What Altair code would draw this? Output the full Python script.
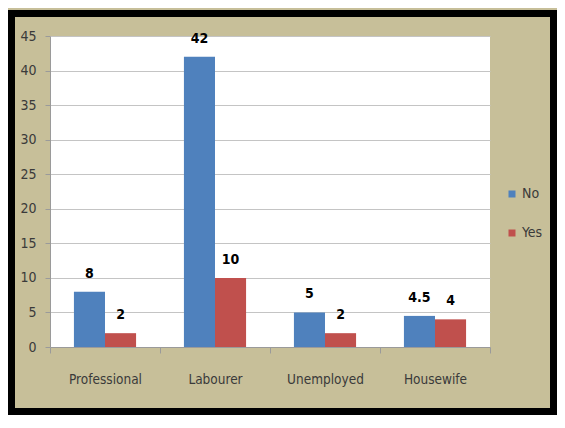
import altair as alt
import pandas as pd

categories = ["Professional", "Labourer", "Unemployed", "Housewife"]
series = ["No", "Yes"]
no_values = [8, 42, 5, 4.5]
yes_values = [2, 10, 2, 4]
y_ticks = [0, 5, 10, 15, 20, 25, 30, 35, 40, 45]

rows = []
for c, n, yv in zip(categories, no_values, yes_values):
    rows.append({"Category": c, "Series": "No", "Value": n})
    rows.append({"Category": c, "Series": "Yes", "Value": yv})
df = pd.DataFrame(rows)

FONT = "Liberation Sans Narrow, DejaVu Sans Condensed, Open Sans, sans-serif"
AXIS_GRAY = "#9A9A9A"
LABEL_COLOR = "#3A3A3A"

x_enc = alt.X(
    "Category:N",
    sort=categories,
    scale=alt.Scale(paddingInner=0, paddingOuter=0),
    axis=alt.Axis(
        title=None, labelAngle=0, tickBand="extent", tickSize=6, labelPadding=19,
        domainColor=AXIS_GRAY, tickColor=AXIS_GRAY, labelFont=FONT, labelFontSize=13.5,
        labelColor=LABEL_COLOR, grid=False,
    ),
)
xo_enc = alt.XOffset("Series:N", sort=series, scale=alt.Scale(paddingInner=0, paddingOuter=0.77))
y_enc = alt.Y(
    "Value:Q",
    scale=alt.Scale(domain=[0, 45], nice=False),
    axis=alt.Axis(
        title=None, values=y_ticks, tickSize=5, labelPadding=9, gridColor="#C4C4C4",
        domainColor=AXIS_GRAY, tickColor=AXIS_GRAY, labelFont=FONT, labelFontSize=14,
        labelColor=LABEL_COLOR,
    ),
)
color_enc = alt.Color(
    "Series:N",
    sort=series,
    scale=alt.Scale(domain=series, range=["#4F81BD", "#C0504D"]),
    legend=alt.Legend(
        title=None, orient="none", legendX=455, legendY=151, symbolType="square",
        symbolSize=49, symbolStrokeWidth=0, labelFontSize=14, labelFont=FONT,
        labelColor=LABEL_COLOR, rowPadding=25, labelOffset=3,
    ),
)

bars = alt.Chart(df).mark_bar().encode(x=x_enc, xOffset=xo_enc, y=y_enc, color=color_enc)

labels = alt.Chart(df).mark_text(
    dy=-14, fontWeight="bold", fontSize=14, font=FONT, color="black", baseline="alphabetic"
).encode(x=x_enc, xOffset=xo_enc, y=y_enc, text=alt.Text("Value:Q"))

frame = alt.Chart(pd.DataFrame({"k": [0]})).mark_rect(
    fillOpacity=0, stroke="black", strokeWidth=7
).encode(
    x=alt.value(-38.5), x2=alt.value(503.5), y=alt.value(-22.5), y2=alt.value(375.5)
)

chart = alt.layer(bars, labels, frame).properties(
    width=440,
    height=311,
    padding={"left": 42, "top": 28, "right": 67, "bottom": 68},
    autosize=alt.AutoSizeParams(type="none"),
    background="#C7BF99",
).configure_view(fill="white", strokeWidth=0)

chart.save("out.html", embed_options={"renderer": "svg", "actions": False})
